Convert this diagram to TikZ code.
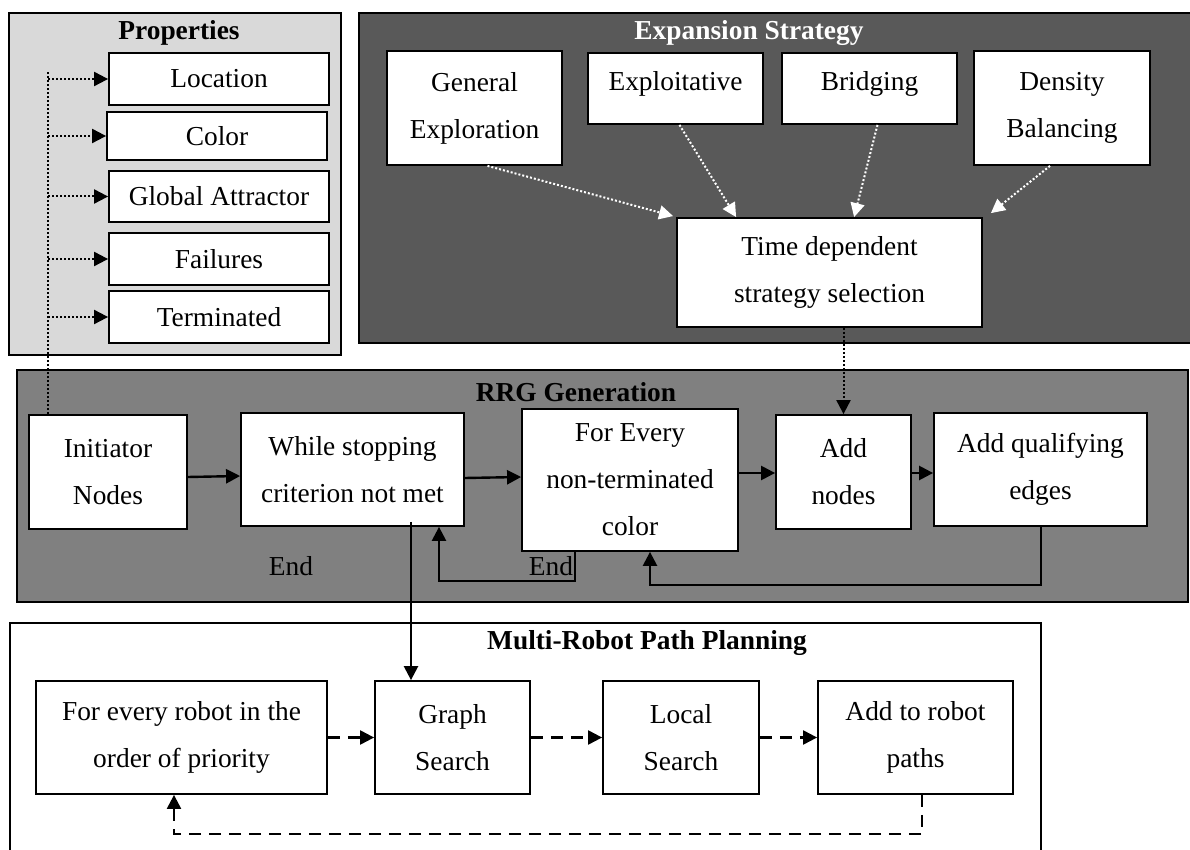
\documentclass[tikz,border=0pt]{standalone}
\usepackage{fontspec}
\setmainfont{Liberation Serif}
\usetikzlibrary{arrows.meta,calc}
\definecolor{propfill}{HTML}{D9D9D9}
\definecolor{expfill}{HTML}{595959}
\definecolor{rrgfill}{HTML}{808080}
\begin{document}
\begin{tikzpicture}[x=0.5pt,y=-0.5pt,
  every node/.style={font=\fontsize{13.7}{23.5}\selectfont},
  box/.style={draw=black, line width=0.9pt, fill=white, inner sep=0pt, align=center},
  wh/.style 2 args={minimum width=#1*0.5pt, minimum height=#2*0.5pt},
  cont/.style={draw=black, line width=1.1pt},
  ttl/.style={font=\fontsize{13.7}{16}\selectfont\bfseries},
  tip/.style={-{Triangle[length=7pt,width=7pt]}},
  solidarr/.style={line width=1.2pt, tip},
  dotline/.style={line width=1pt, dash pattern=on 1pt off 1pt},
  dotarr/.style={dotline, tip},
  wdot/.style={dotarr, white},
  dasharr/.style={line width=1.1pt, dash pattern=on 6pt off 4pt, tip}]
\useasboundingbox (0,0) rectangle (1190,850);

% ---------------- Properties
\draw[cont, fill=propfill] (9,13) rectangle (341,355);
\node[ttl] (proptitle) at (179,33) {Properties};
\node[box, wh={220}{52}] (loc)  at (219,79)    {Location};
\node[box, wh={220}{48}] (col)  at (217,136)   {Color};
\node[box, wh={220}{51}] (glob) at (219,196.5) {Global Attractor};
\node[box, wh={220}{52}] (fail) at (219,259)   {Failures};
\node[box, wh={220}{52}] (term) at (219,317)   {Terminated};

% ---------------- Expansion Strategy
\draw[cont, fill=expfill] (359,13) rectangle (1200,343);
\node[ttl, text=white] (exptitle) at (749,33) {Expansion Strategy};
\node[box, wh={175}{114}] (gen)  at (474.5,108) {General\\Exploration};
\node[box, wh={175}{71}, text depth=8pt] (expl) at (675.5,88.5) {Exploitative};
\node[box, wh={175}{71}, text depth=8pt] (brid) at (869.5,88.5) {Bridging};
\node[box, wh={176}{114}] (dens) at (1062,108) {Density\\Balancing};
\node[box, wh={305}{109}] (tds)  at (829.5,272.5) {Time dependent\\strategy selection};

\draw[wdot] ($(gen.south)+(13,0)$) -- ($(tds.north west)+(-3,-1)$);
\draw[wdot] ($(expl.south)+(4,0)$) -- ($(tds.north west)+(60,0)$);
\draw[wdot] ($(brid.south)+(8,0)$) -- ($(tds.north west)+(178,0)$);
\draw[wdot] ($(dens.south)+(-12,0)$) -- ($(tds.north east)+(8,-4)$);

% ---------------- RRG Generation
\draw[cont, fill=rrgfill] (17,370) rectangle (1188,602);
\node[ttl] (rrgtitle) at (576,392) {RRG Generation};
\node[box, wh={158}{114}] (init)  at (108,472)     {Initiator\\Nodes};
\node[box, wh={223}{113}] (while) at (352.5,469.5) {While stopping\\criterion not met};
\node[box, wh={216}{142}] (forc)  at (630,480)     {For Every\\non-terminated\\color};
\node[box, wh={135}{114}] (addn)  at (843.5,472)   {Add\\nodes};
\node[box, wh={213}{113}] (qual)  at (1040.5,469.5){Add qualifying\\edges};
\node (end1) at (291,566) {End};
\node (end2) at (551,566) {End};

\draw[dotarr] (tds.south -| addn.north) -- (addn.north);

\draw[solidarr] ($(init.east)+(0,5)$) -- ($(while.west)+(0,6.5)$);
\draw[solidarr] ($(while.east)+(0,8.5)$) -- ($(forc.west)+(0,-3)$);
\draw[solidarr] ($(forc.east)+(0,-7)$) -- ($(addn.west)+(0,1)$);
\draw[solidarr] ($(addn.east)+(0,1)$) -- ($(qual.west)+(0,3.5)$);
\draw[solidarr] ($(forc.south)+(-55,0)$) -- ++(0,29) -| ($(while.south)+(86.5,0)$);
\draw[solidarr] ($(qual.south)+(0.5,0)$) -- ++(0,58) -| ($(forc.south)+(20,0)$);

% ---------------- Properties connector
\coordinate (trunk) at (48,72);
\draw[dotline] (init.north -| trunk) -- (trunk);
\foreach \n in {loc,col,glob,fail,term} \draw[dotarr] (trunk |- \n.west) -- (\n.west);

% ---------------- Multi-Robot Path Planning
\draw[cont] (10,900) -- (10,623) -- (1041,623) -- (1041,900);
\node[ttl] (mrtitle) at (647,643) {Multi-Robot Path Planning};
\node[box, wh={291}{113}] (robot) at (181.5,737.5) {For every robot in the\\order of priority};
\node[box, wh={155}{113}] (graph) at (452.5,737.5) {Graph\\Search};
\node[box, wh={156}{113}] (local) at (681,737.5)   {Local\\Search};
\node[box, wh={195}{113}] (addp)  at (915.5,737.5) {Add to robot\\paths};

\coordinate (wg) at ($(while.south)+(58.5,-5)$);
\draw[solidarr] (wg) -- (wg |- graph.north);

\draw[dasharr] (robot.east) -- (graph.west);
\draw[dasharr] (graph.east) -- (local.west);
\draw[dasharr] (local.east) -- (addp.west);
\draw[dasharr] ($(addp.south)+(6.5,0)$) -- ++(0,39) -| ($(robot.south)+(-7.5,0)$);
\end{tikzpicture}
\end{document}
